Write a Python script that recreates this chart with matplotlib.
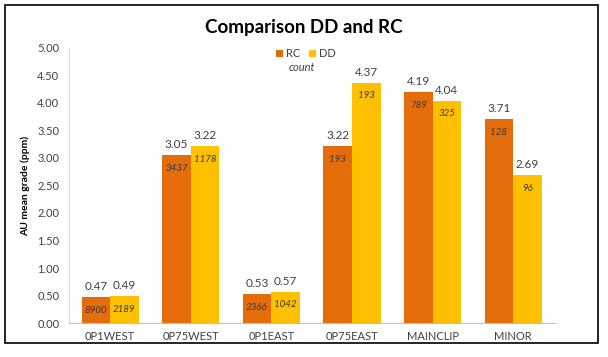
"""Comparison of DD and RC mean AU grades by domain."""
import matplotlib.pyplot as plt
import numpy as np
from matplotlib.patches import Rectangle

plt.rcParams["font.family"] = ["Lato", "DejaVu Sans"]

categories = ["0P1WEST", "0P75WEST", "0P1EAST", "0P75EAST", "MAINCLIP", "MINOR"]
rc_grade = [0.47, 3.05, 0.53, 3.22, 4.19, 3.71]
dd_grade = [0.49, 3.22, 0.57, 4.37, 4.04, 2.69]
rc_count = [8900, 3437, 2366, 193, 789, 128]
dd_count = [2189, 1178, 1042, 193, 325, 96]

RC_COLOR = "#E46C0A"
DD_COLOR = "#FFC000"

fig = plt.figure(figsize=(6.08, 3.57), dpi=100)
ax = fig.add_axes([0.1135, 0.095, 0.7995, 0.771])

x = np.arange(len(categories))
w = 0.355
ax.bar(x - w / 2, rc_grade, w, color=RC_COLOR, label="RC")
ax.bar(x + w / 2, dd_grade, w, color=DD_COLOR, label="DD")

for xs, grades, counts in [(x - w / 2, rc_grade, rc_count),
                           (x + w / 2, dd_grade, dd_count)]:
    for xi, g, c in zip(xs, grades, counts):
        ax.text(xi, g + 0.09, f"{g:.2f}", ha="center", va="bottom",
                fontsize=8.5, color="#404040")
        ax.text(xi, g - 0.24, str(c), ha="center", va="center",
                fontsize=7, style="italic", color="#3a3a3a")

ax.set_xlim(-0.51, 5.52)
ax.set_ylim(0, 5)
ax.set_yticks(np.arange(0, 5.01, 0.5))
ax.set_yticklabels([f"{v:.2f}" for v in np.arange(0, 5.01, 0.5)])
ax.set_xticks(x)
ax.set_xticklabels(categories)
ax.tick_params(axis="both", length=0, labelsize=8, colors="#404040")
ax.tick_params(axis="y", pad=7)
ax.tick_params(axis="x", pad=6)
for side in ["top", "right"]:
    ax.spines[side].set_visible(False)
ax.spines["left"].set_color("#d9d9d9")
ax.spines["bottom"].set_color("#bfbfbf")
ax.set_ylabel("AU mean grade (ppm)", fontsize=7.5, fontweight="bold",
              labelpad=5)

fig.text(0.5, 0.922, "Comparison DD and RC", ha="center", va="center",
         fontsize=13.5, fontweight="bold")

ax.legend(loc="upper center", bbox_to_anchor=(0.488, 1.035), ncol=2,
          frameon=False, fontsize=8, handlelength=0.6, handleheight=0.6,
          handletextpad=0.3, columnspacing=0.8, labelcolor="#404040")
fig.text(0.497, 0.81, "count", ha="center", va="center", fontsize=8,
         style="italic", color="#404040")

fig.patches.append(Rectangle((0.009, 0.04), 0.975, 0.945, fill=False,
                             edgecolor="black", linewidth=1.2,
                             transform=fig.transFigure, figure=fig))

fig.savefig("out.png", dpi=100)
